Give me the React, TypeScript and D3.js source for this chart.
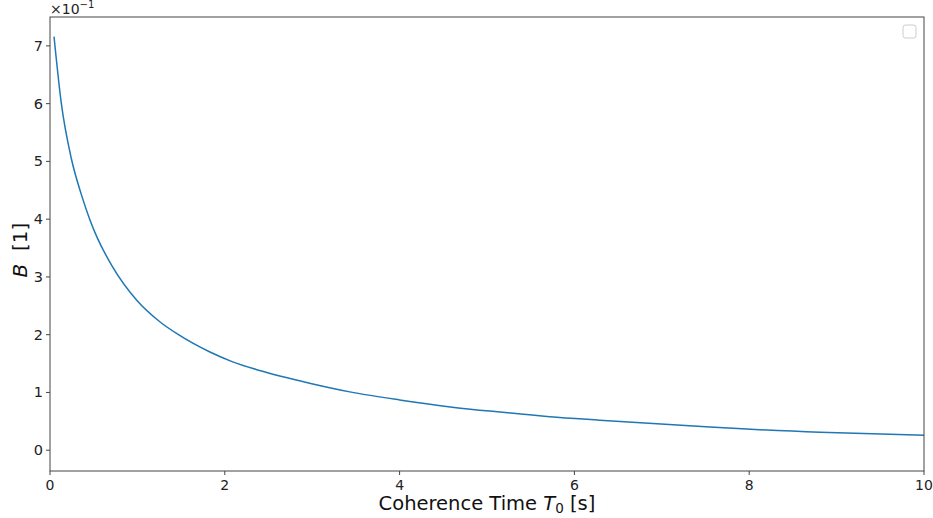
import React from "react";
import * as d3 from "d3";

const coherenceTime = [0.046, 0.13, 0.244, 0.36, 0.454, 0.54, 0.706, 0.99, 1.26, 1.47, 1.83, 2.09, 2.4, 2.97, 3.43, 4.0, 4.58, 5.15, 5.72, 6.29, 7.55, 8.81, 10.0];
const bValues = [7.16, 6.0, 5.05, 4.42, 4.0, 3.68, 3.2, 2.6, 2.22, 2.0, 1.7, 1.53, 1.38, 1.16, 1.01, 0.87, 0.75, 0.66, 0.58, 0.52, 0.4, 0.31, 0.26];
const xTicks = [0, 2, 4, 6, 8, 10];
const yTicks = [0, 1, 2, 3, 4, 5, 6, 7];

const W = 933, H = 518;
const L = 50, R = 924, T = 17, B = 471;
const FONT = "DejaVu Sans, sans-serif";

export default function App() {
  const x = d3.scaleLinear().domain([0, 10]).range([L, R]);
  const y = d3.scaleLinear().domain([-0.36, 7.5]).range([B, T]);
  const pts = coherenceTime.map((t, i) => [t, bValues[i]] as [number, number]);
  const line = d3.line<[number, number]>().x(d => x(d[0])).y(d => y(d[1])).curve(d3.curveMonotoneX);
  const axisColor = "#444";
  return (
    <svg width={W} height={H} style={{ position: "absolute", left: 0, top: 0, background: "#fff" }} fontFamily={FONT}>
      <rect x={0} y={0} width={W} height={H} fill="#fff" />
      <path d={line(pts) || ""} fill="none" stroke="#1f77b4" strokeWidth={1.5} />
      <rect x={L} y={T} width={R - L} height={B - T} fill="none" stroke={axisColor} strokeWidth={1} />
      {xTicks.map(t => (
        <g key={"x" + t}>
          <line x1={x(t)} x2={x(t)} y1={B} y2={B + 4} stroke={axisColor} />
          <text x={x(t)} y={B + 19} fontSize={14} textAnchor="middle" fill="#222">{t}</text>
        </g>
      ))}
      {yTicks.map(t => (
        <g key={"y" + t}>
          <line x1={L - 4} x2={L} y1={y(t)} y2={y(t)} stroke={axisColor} />
          <text x={L - 7} y={y(t) + 5} fontSize={14.5} textAnchor="end" fill="#222">{t}</text>
        </g>
      ))}
      <text x={L} y={14} fontSize={14} fill="#222">
        ×10<tspan dy={-6} fontSize={10}>−1</tspan>
      </text>
      <text x={(L + R) / 2} y={510} fontSize={19.5} textAnchor="middle" fill="#111">
        Coherence Time <tspan fontStyle="italic">T</tspan><tspan fontSize={13.5} dy={3}>0</tspan><tspan dy={-3}> [s]</tspan>
      </text>
      <text transform={`translate(27, 250) rotate(-90)`} fontSize={20} textAnchor="middle" fill="#111">
        <tspan fontStyle="italic">B</tspan>{"\u00a0\u00a0[1]"}
      </text>
      <rect x={903} y={25} width={13} height={13} rx={2.5} fill="#fff" stroke="#ccc" strokeWidth={1} />
    </svg>
  );
}
